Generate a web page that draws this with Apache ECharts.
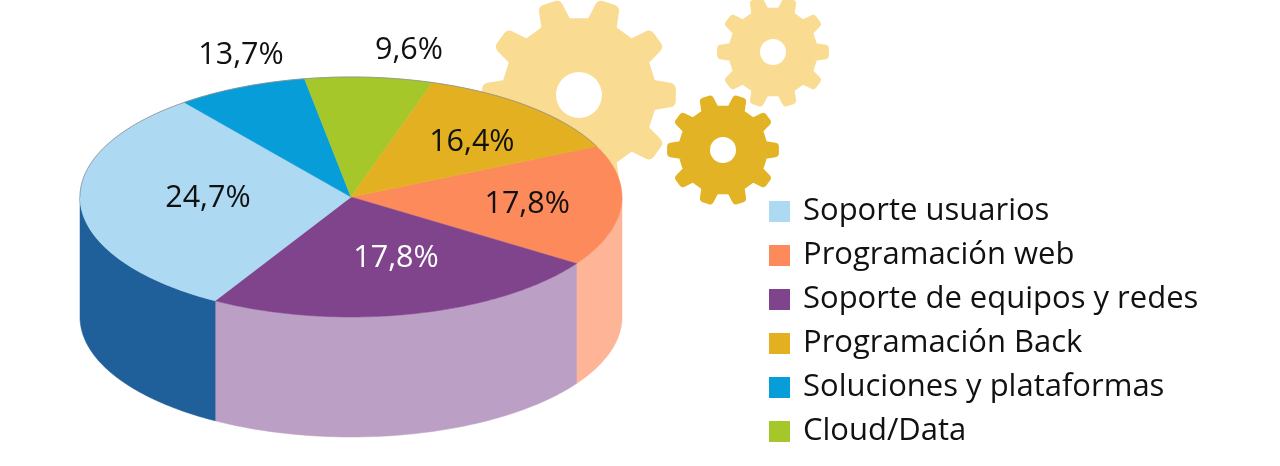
<!DOCTYPE html>
<html>
<head>
    <meta charset="utf-8">
    <title>Perfiles</title>
    <script src="https://cdn.jsdelivr.net/npm/echarts@6/dist/echarts.min.js"></script>
    <style>
        html,body{
            height:100%;
            width:100%;
            margin:0;
            padding:0;
            background:#fff;
        }
        #chart{
            width:1280px;
            height:466px;
        }
    </style>
</head>
<body>
<div id="chart"></div>
<script>
    /*数据 - slices in clockwise order, starting at the orange one*/
    var sliceNames = ['Programación web', 'Soporte de equipos y redes', 'Soporte usuarios', 'Soluciones y plataformas', 'Cloud/Data', 'Programación Back'];
    //the percentages printed on the chart
    var printedPct = ['17,8%', '17,8%', '24,7%', '13,7%', '9,6%', '16,4%'];
    //share of the circle each slice really takes in the picture (not the same as the printed ones)
    var drawnPct = [16.3, 24.0, 31.1, 7.8, 7.6, 13.2];
    var legendNames = ['Soporte usuarios', 'Programación web', 'Soporte de equipos y redes', 'Programación Back', 'Soluciones y plataformas', 'Cloud/Data'];

    /*样式*/
    var topColors = ['#FD8A5B', '#7F448C', '#ADD9F2', '#079DD9', '#A5C72A', '#E2B021'];
    var wallColors = ['#FDB497', '#BC9FC5', '#1F5F9A', null, null, null];
    var labelColors = ['#111', '#fff', '#111', '#111', '#111', '#111'];
    //label centres in axis units (1 = one radius)
    var labelAt = [[0.65, -0.057], [0.166, -0.507], [-0.528, -0.007], [-0.406, 1.183], [0.214, 1.223], [0.446, 0.453]];
    var startDeg = -25;
    var depth = 1; //height of the wall, in y axis units

    var font = '"Open Sans"';

    function sliceRange(i) {
        var a = startDeg;
        for (var k = 0; k < i; k++) {
            a += drawnPct[k] * 3.6;
        }
        return [a, a + drawnPct[i] * 3.6];
    }

    function arcPoints(api, from, to, drop) {
        var pts = [];
        var n = Math.max(2, Math.ceil(Math.abs(to - from)));
        for (var k = 0; k <= n; k++) {
            var t = (from + (to - from) * k / n) * Math.PI / 180;
            pts.push(api.coord([Math.cos(t), -Math.sin(t) - drop]));
        }
        return pts;
    }

    function renderSlice(params, api) {
        var i = params.seriesIndex;
        var from = api.value(0);
        var to = api.value(1);
        var children = [];

        //front wall, only the part of the slice between 0 and 180 degrees
        var a = Math.max(from, 0);
        var b = Math.min(to, 180);
        if (wallColors[i] && b > a) {
            var wall = arcPoints(api, a, b, 0).concat(arcPoints(api, b, a, depth));
            children.push({
                type: 'polygon',
                shape: {points: wall},
                style: {fill: wallColors[i], stroke: wallColors[i], lineWidth: 0.5}
            });
        }

        var top = [api.coord([0, 0])].concat(arcPoints(api, from, to, 0));
        children.push({
            type: 'polygon',
            shape: {points: top},
            style: {fill: topColors[i], stroke: topColors[i], lineWidth: 0.5}
        });

        //thin grey edge on the far half of the disc
        var c = Math.max(from, 180);
        var d = Math.min(to, 360);
        if (d > c) {
            children.push({
                type: 'polyline',
                shape: {points: arcPoints(api, c, d, 0)},
                style: {fill: null, stroke: '#8a8f92', lineWidth: 0.8}
            });
        }

        var p = api.coord(labelAt[i]);
        children.push({
            type: 'text',
            z2: 10,
            x: p[0],
            y: p[1],
            style: {
                text: printedPct[i],
                fill: labelColors[i],
                font: '30.5px ' + font,
                align: 'center',
                verticalAlign: 'middle'
            }
        });
        return {type: 'group', children: children};
    }

    /*齿轮 gear outline as polygon points*/
    function gearPoints(cx, cy, rTip, rRoot, teeth) {
        var step = Math.PI * 2 / teeth;
        var pts = [];
        for (var k = 0; k < teeth; k++) {
            var t = k * step;
            var corners = [
                [rRoot, t - step * 0.2],
                [rTip, t - step * 0.1],
                [rTip, t + step * 0.1],
                [rRoot, t + step * 0.2]
            ];
            for (var j = 0; j < 4; j++) {
                pts.push([
                    cx + corners[j][0] * Math.cos(corners[j][1]),
                    cy + corners[j][0] * Math.sin(corners[j][1])
                ]);
            }
        }
        return pts;
    }

    function gear(cx, cy, rTip, rRoot, rHole, color) {
        //the thick round stroke gives the soft tooth corners
        var edge = rTip * 0.14;
        return [
            {
                type: 'polygon',
                z: -2,
                shape: {points: gearPoints(cx, cy, rTip - edge / 2, rRoot - edge / 2, 10)},
                style: {fill: color, stroke: color, lineWidth: edge, lineJoin: 'round'}
            },
            {
                type: 'circle',
                z: -1,
                shape: {cx: cx, cy: cy, r: rHole},
                style: {fill: '#fff'}
            }
        ];
    }

    var myChart = echarts.init(document.getElementById('chart'), null, {renderer: 'canvas'});

    var series = [];
    for (var i = 0; i < sliceNames.length; i++) {
        series.push({
            name: sliceNames[i],
            type: 'custom',
            coordinateSystem: 'cartesian2d',
            clip: false,
            silent: true,
            itemStyle: {color: topColors[i]},
            renderItem: renderSlice,
            data: [sliceRange(i)]
        });
    }

    var option = {
        animation: false,
        backgroundColor: '#fff',
        //the axes map one radius to the pixels of the squashed disc
        grid: {left: 80, top: 77, width: 542, height: 240},
        xAxis: {type: 'value', min: -1, max: 1, show: false},
        yAxis: {type: 'value', min: -1, max: 1, show: false},
        graphic: [].concat(
            gear(579, 95, 97, 78, 23, '#F9DB92'),
            gear(773, 52, 56, 45, 13, '#F9DB92'),
            gear(723, 150, 56, 45, 13, '#E2B325')
        ),
        legend: {
            data: legendNames,
            orient: 'vertical',
            left: 769,
            top: 196,
            padding: 0,
            itemWidth: 21,
            itemHeight: 21,
            itemGap: 13,
            icon: 'rect',
            selectedMode: false,
            textStyle: {
                fontFamily: font,
                fontSize: 31,
                color: '#111',
                padding: [0, 0, 0, 8]
            }
        },
        series: series
    };
    myChart.setOption(option);
</script>
</body>
</html>
